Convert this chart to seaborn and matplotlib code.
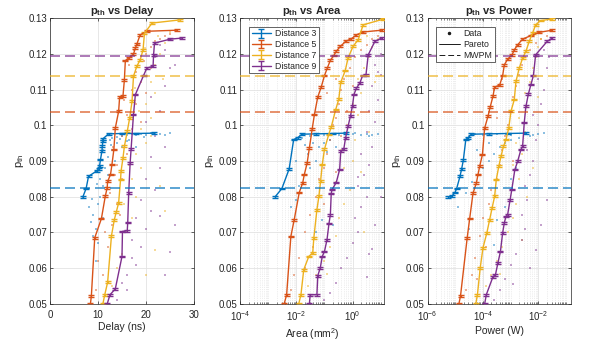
import numpy as np
import matplotlib
matplotlib.use("Agg")
import matplotlib.pyplot as plt
import matplotlib.ticker as mticker
from matplotlib.lines import Line2D
import seaborn as sns

# ---- data ----
distances = [3, 5, 7, 9]
colors = ['#0072BD', '#D95319', '#EDB120', '#7E2F8E']
mwpm_pth = [0.0825, 0.1037, 0.1137, 0.1193]
err_bar = 0.00025

# Pareto fronts: delay in ns
pareto_delay_d3 = [(6.8, 0.0799), (7.5, 0.0823), (8.0, 0.0857), (9.8, 0.0873), (10.1, 0.0878),
                   (10.3, 0.0885), (10.5, 0.0904), (10.8, 0.0927), (10.9, 0.0943), (11.0, 0.0955),
                   (11.0, 0.0962), (12.2, 0.0976), (15.0, 0.0977), (18.0, 0.0977), (21.7, 0.0978)]
pareto_delay_d5 = [(8.4, 0.0500), (8.6, 0.0523), (9.3, 0.0685), (10.7, 0.0739), (11.5, 0.0801),
                   (11.9, 0.0825), (12.0, 0.0843), (12.6, 0.0862), (12.9, 0.0890), (13.3, 0.0932),
                   (13.6, 0.0992), (14.3, 0.1039), (14.5, 0.1078), (15.2, 0.1081), (15.5, 0.1127),
                   (15.7, 0.1181), (16.4, 0.1188), (17.4, 0.1199), (17.8, 0.1216), (18.1, 0.1227),
                   (18.8, 0.1253), (20.2, 0.1263), (26.5, 0.1266)]
pareto_delay_d7 = [(11.0, 0.0500), (11.4, 0.0526), (12.0, 0.0561), (12.8, 0.0691), (13.4, 0.0736),
                   (13.8, 0.0757), (14.3, 0.0783), (14.7, 0.0848), (14.8, 0.0871), (15.2, 0.0908),
                   (15.5, 0.0941), (16.1, 0.0983), (16.6, 0.1020), (17.1, 0.1067), (17.4, 0.1137),
                   (18.1, 0.1165), (18.8, 0.1183), (19.4, 0.1211), (19.7, 0.1258), (21.3, 0.1286),
                   (27.2, 0.1295)]
pareto_delay_d9 = [(11.9, 0.0500), (12.5, 0.0526), (13.6, 0.0542), (15.0, 0.0633), (15.1, 0.0703),
                   (16.1, 0.0705), (16.2, 0.0728), (16.4, 0.0810), (16.7, 0.0894), (16.9, 0.0933),
                   (17.4, 0.1030), (17.8, 0.1086), (19.5, 0.1139), (20.2, 0.1160), (21.5, 0.1165),
                   (21.6, 0.1197), (21.8, 0.1230), (25.1, 0.1241), (27.6, 0.1244)]

# Pareto fronts: log10(area / mm^2)
pareto_area_d3 = [(-2.76, 0.0800), (-2.52, 0.0823), (-2.26, 0.0878), (-2.10, 0.0960), (-1.96, 0.0965),
                  (-1.80, 0.0975), (-1.3, 0.0976), (-0.7, 0.0977), (-0.25, 0.0978)]
pareto_area_d5 = [(-2.44, 0.0500), (-2.35, 0.0526), (-2.20, 0.0689), (-2.08, 0.0736), (-1.90, 0.0812),
                  (-1.78, 0.0838), (-1.72, 0.0862), (-1.62, 0.0894), (-1.54, 0.0936), (-1.44, 0.0989),
                  (-1.36, 0.1030), (-1.24, 0.1079), (-1.12, 0.1106), (-1.00, 0.1139), (-0.90, 0.1160),
                  (-0.79, 0.1182), (-0.67, 0.1195), (-0.58, 0.1207), (-0.43, 0.1221), (-0.24, 0.1235),
                  (-0.04, 0.1242), (0.14, 0.1253), (0.38, 0.1261), (1.04, 0.1266)]
pareto_area_d7 = [(-1.92, 0.0500), (-1.84, 0.0526), (-1.74, 0.0596), (-1.56, 0.0633), (-1.42, 0.0643),
                  (-1.38, 0.0685), (-1.27, 0.0764), (-1.20, 0.0801), (-1.14, 0.0843), (-1.08, 0.0890),
                  (-1.00, 0.0933), (-0.85, 0.0974), (-0.76, 0.0995), (-0.60, 0.1044), (-0.49, 0.1073),
                  (-0.42, 0.1120), (-0.26, 0.1153), (-0.16, 0.1188), (0.02, 0.1221), (0.20, 0.1239),
                  (0.38, 0.1281), (1.10, 0.1297)]
pareto_area_d9 = [(-1.54, 0.0500), (-1.51, 0.0526), (-1.27, 0.0526), (-1.24, 0.0579), (-1.15, 0.0601),
                  (-1.08, 0.0633), (-1.00, 0.0647), (-0.91, 0.0680), (-0.84, 0.0725), (-0.79, 0.0750),
                  (-0.76, 0.0809), (-0.73, 0.0820), (-0.58, 0.0840), (-0.46, 0.0876), (-0.42, 0.0927),
                  (-0.31, 0.0934), (-0.25, 0.0964), (-0.16, 0.0997), (-0.07, 0.1027), (0.00, 0.1055),
                  (0.05, 0.1086), (0.14, 0.1104), (0.26, 0.1118), (0.36, 0.1139), (0.48, 0.1141),
                  (0.56, 0.1197), (0.80, 0.1235), (1.04, 0.1244)]

# Pareto fronts: log10(power / W)
pareto_power_d3 = [(-5.25, 0.0800), (-5.13, 0.0801), (-5.01, 0.0812), (-4.95, 0.0823), (-4.83, 0.0857),
                   (-4.77, 0.0878), (-4.71, 0.0902), (-4.62, 0.0960), (-4.54, 0.0965), (-4.42, 0.0975),
                   (-3.8, 0.0976), (-3.1, 0.0977), (-2.45, 0.0978)]
pareto_power_d5 = [(-4.87, 0.0500), (-4.81, 0.0523), (-4.57, 0.0685), (-4.48, 0.0739), (-4.36, 0.0810),
                   (-4.24, 0.0838), (-4.18, 0.0862), (-4.12, 0.0885), (-4.02, 0.0918), (-3.94, 0.0992),
                   (-3.82, 0.1025), (-3.74, 0.1051), (-3.64, 0.1081), (-3.58, 0.1107), (-3.40, 0.1112),
                   (-3.29, 0.1139), (-3.23, 0.1169), (-3.11, 0.1185), (-2.95, 0.1197), (-2.87, 0.1211),
                   (-2.75, 0.1225), (-2.57, 0.1241), (-2.27, 0.1251), (-1.98, 0.1260), (-1.50, 0.1266)]
pareto_power_d7 = [(-4.26, 0.0500), (-4.20, 0.0526), (-4.10, 0.0601), (-4.00, 0.0657), (-3.86, 0.0699),
                   (-3.76, 0.0736), (-3.67, 0.0769), (-3.58, 0.0801), (-3.52, 0.0848), (-3.43, 0.0885),
                   (-3.35, 0.0913), (-3.26, 0.0941), (-3.17, 0.0960), (-3.07, 0.0992), (-2.99, 0.1039),
                   (-2.87, 0.1072), (-2.81, 0.1123), (-2.69, 0.1160), (-2.57, 0.1188), (-2.45, 0.1207),
                   (-2.33, 0.1235), (-2.21, 0.1258), (-2.10, 0.1281), (-1.92, 0.1293), (-1.52, 0.1297)]
pareto_power_d9 = [(-3.94, 0.0500), (-3.88, 0.0526), (-3.64, 0.0576), (-3.55, 0.0582), (-3.46, 0.0615),
                   (-3.37, 0.0647), (-3.29, 0.0699), (-3.23, 0.0727), (-3.17, 0.0745), (-3.11, 0.0750),
                   (-3.02, 0.0792), (-2.96, 0.0820), (-2.85, 0.0876), (-2.75, 0.0899), (-2.63, 0.0932),
                   (-2.57, 0.0941), (-2.51, 0.1008), (-2.45, 0.1053), (-2.36, 0.1088), (-2.27, 0.1114),
                   (-2.18, 0.1139), (-2.10, 0.1197), (-1.68, 0.1235), (-1.50, 0.1244)]

# scattered design points (delay in ns)
data_delay_d3 = [(8, 0.077), (9, 0.075), (8.5, 0.073), (9.5, 0.071), (10, 0.078), (11, 0.083), (12, 0.086),
                 (10.5, 0.080), (11.5, 0.088), (12, 0.091), (13, 0.093), (14, 0.095), (11, 0.093),
                 (12.5, 0.096), (13, 0.0965), (15, 0.097), (16, 0.0972), (17, 0.0975), (18, 0.0973),
                 (19, 0.0976), (20, 0.0974), (21, 0.0977), (22, 0.0975), (23, 0.0976), (24, 0.0974),
                 (25, 0.0977), (14, 0.0968), (9.5, 0.062), (10, 0.067), (13.5, 0.090), (15, 0.094),
                 (16.5, 0.096), (18, 0.094), (10.5, 0.085), (9, 0.069), (11, 0.074), (12.8, 0.0945),
                 (14.5, 0.0962), (16, 0.0955), (19.5, 0.0968), (8.8, 0.0795), (9.8, 0.0835)]
data_delay_d5 = [(10, 0.062), (11, 0.058), (12, 0.066), (13, 0.072), (14, 0.078), (12.5, 0.081), (15, 0.085),
                 (14, 0.089), (16, 0.092), (15, 0.097), (17, 0.099), (16, 0.103), (18, 0.106), (17, 0.110),
                 (19, 0.112), (18, 0.115), (19.5, 0.118), (20, 0.120), (21, 0.122), (22, 0.1235),
                 (23, 0.124), (24, 0.125), (25, 0.1255), (17.5, 0.121), (16.5, 0.117), (20, 0.109),
                 (9.5, 0.054), (11.5, 0.070), (13.5, 0.086), (19, 0.101), (14.5, 0.075), (21, 0.116),
                 (16.8, 0.1195), (18.5, 0.1225), (15.5, 0.107), (13.2, 0.094)]
data_delay_d7 = [(13, 0.055), (14, 0.060), (15, 0.064), (16, 0.070), (17, 0.074), (15.5, 0.078), (18, 0.080),
                 (17, 0.085), (19, 0.088), (18, 0.092), (20, 0.095), (19, 0.099), (21, 0.102), (20, 0.106),
                 (22, 0.109), (21, 0.112), (22, 0.117), (23, 0.120), (24, 0.123), (22.5, 0.125),
                 (25, 0.126), (21, 0.097), (23, 0.083), (24, 0.076), (22, 0.065), (20, 0.058),
                 (18.5, 0.104), (23.5, 0.113), (19.8, 0.1215), (16.5, 0.089), (17.8, 0.1105)]
data_delay_d9 = [(14, 0.051), (15, 0.056), (16, 0.058), (17, 0.063), (18, 0.061), (19, 0.066), (17, 0.068),
                 (20, 0.071), (18, 0.074), (21, 0.076), (19, 0.079), (22, 0.082), (20, 0.085), (23, 0.088),
                 (21, 0.091), (24, 0.094), (22, 0.097), (20, 0.101), (23, 0.104), (21, 0.108), (24, 0.111),
                 (25, 0.116), (22, 0.119), (26, 0.117), (24, 0.121), (23, 0.1225), (25, 0.0645),
                 (26, 0.072), (24, 0.058), (16, 0.054), (23, 0.0745)]

# scattered design points (log10 area)
data_area_d3 = [(-2.2, 0.077), (-2.0, 0.079), (-1.9, 0.083), (-1.7, 0.086), (-1.5, 0.088), (-1.3, 0.090),
                (-1.6, 0.092), (-1.2, 0.094), (-1.0, 0.095), (-0.8, 0.096), (-1.4, 0.095), (-2.0, 0.090),
                (-1.1, 0.0735), (-1.3, 0.070), (-0.7, 0.072), (-1.5, 0.097), (-1.0, 0.0972), (-0.5, 0.0974),
                (0.0, 0.0975), (0.3, 0.0973), (0.5, 0.0976), (0.7, 0.0974), (0.9, 0.0975), (-0.2, 0.0976),
                (-1.8, 0.0965), (-0.9, 0.0925), (-0.6, 0.094), (0.1, 0.0978), (0.6, 0.0971), (-1.7, 0.0945)]
data_area_d5 = [(-2.1, 0.058), (-1.9, 0.063), (-1.7, 0.070), (-1.5, 0.075), (-1.3, 0.080), (-1.2, 0.085),
                (-1.0, 0.088), (-0.9, 0.092), (-0.8, 0.096), (-0.7, 0.100), (-0.6, 0.102), (-0.5, 0.106),
                (-0.4, 0.110), (-0.3, 0.113), (-0.1, 0.116), (0.1, 0.119), (0.3, 0.121), (0.5, 0.1225),
                (0.7, 0.124), (0.9, 0.125), (-0.9, 0.109), (-0.6, 0.113), (-1.4, 0.066), (-1.0, 0.078),
                (-0.6, 0.087), (-0.4, 0.097), (-0.2, 0.104), (0.0, 0.111), (-2.2, 0.054), (-1.7, 0.060)]
data_area_d7 = [(-1.6, 0.055), (-1.3, 0.058), (-1.0, 0.062), (-0.8, 0.066), (-0.6, 0.069), (-0.5, 0.074),
                (-0.3, 0.078), (-0.1, 0.082), (-0.6, 0.084), (-0.3, 0.088), (0.0, 0.090), (-0.4, 0.093),
                (0.1, 0.096), (-0.2, 0.100), (0.2, 0.103), (0.0, 0.106), (0.3, 0.109), (0.2, 0.113),
                (0.4, 0.116), (0.6, 0.119), (0.7, 0.122), (0.9, 0.124), (0.5, 0.125), (-0.9, 0.0585),
                (0.4, 0.070), (0.3, 0.087), (0.6, 0.098), (0.8, 0.112)]
data_area_d9 = [(-1.0, 0.051), (-0.8, 0.053), (-0.6, 0.056), (-0.4, 0.060), (-0.2, 0.063), (0.0, 0.067),
                (0.2, 0.070), (0.1, 0.074), (0.3, 0.077), (0.5, 0.080), (0.2, 0.083), (0.4, 0.086),
                (0.6, 0.089), (0.3, 0.092), (0.7, 0.094), (0.5, 0.098), (0.8, 0.101), (0.6, 0.104),
                (0.9, 0.107), (0.7, 0.111), (1.0, 0.114), (0.8, 0.117), (1.0, 0.120), (0.9, 0.115),
                (0.6, 0.064), (0.8, 0.072), (1.0, 0.080), (0.5, 0.0575), (0.7, 0.0655), (0.2, 0.0855)]

# scattered design points (log10 power)
data_power_d3 = [(-4.9, 0.077), (-4.6, 0.081), (-4.4, 0.084), (-4.2, 0.086), (-4.0, 0.088), (-3.8, 0.090),
                 (-3.6, 0.092), (-3.4, 0.094), (-3.2, 0.095), (-3.0, 0.096), (-3.8, 0.095), (-4.2, 0.093),
                 (-3.5, 0.0735), (-3.2, 0.077), (-3.0, 0.085), (-2.8, 0.088), (-4.3, 0.0975), (-4.0, 0.0973),
                 (-3.5, 0.0976), (-3.0, 0.0974), (-2.5, 0.0975), (-2.2, 0.0973), (-2.0, 0.0976),
                 (-1.8, 0.0978), (-2.7, 0.0965), (-4.5, 0.071), (-3.6, 0.0665), (-2.3, 0.0969)]
data_power_d5 = [(-4.6, 0.054), (-4.4, 0.058), (-4.3, 0.063), (-4.1, 0.069), (-4.0, 0.074), (-3.8, 0.078),
                 (-3.7, 0.082), (-3.5, 0.085), (-3.4, 0.089), (-3.3, 0.093), (-3.2, 0.097), (-3.1, 0.100),
                 (-3.0, 0.104), (-2.9, 0.108), (-2.8, 0.111), (-2.7, 0.114), (-2.6, 0.117), (-2.5, 0.119),
                 (-2.3, 0.121), (-2.1, 0.123), (-1.9, 0.124), (-1.7, 0.125), (-3.6, 0.110), (-3.3, 0.113),
                 (-3.5, 0.102), (-4.2, 0.057), (-3.9, 0.066), (-2.9, 0.090)]
data_power_d7 = [(-3.9, 0.055), (-3.7, 0.058), (-3.5, 0.062), (-3.3, 0.066), (-3.1, 0.070), (-2.9, 0.074),
                 (-2.8, 0.078), (-3.0, 0.082), (-2.7, 0.085), (-2.9, 0.089), (-2.6, 0.092), (-2.8, 0.095),
                 (-2.5, 0.098), (-2.7, 0.102), (-2.4, 0.105), (-2.5, 0.109), (-2.3, 0.112), (-2.2, 0.116),
                 (-2.1, 0.119), (-2.0, 0.122), (-1.9, 0.124), (-2.3, 0.125), (-2.6, 0.068), (-2.4, 0.080),
                 (-2.2, 0.088), (-3.4, 0.0585), (-2.0, 0.108)]
data_power_d9 = [(-3.6, 0.051), (-3.4, 0.054), (-3.2, 0.057), (-3.0, 0.061), (-2.8, 0.064), (-2.6, 0.068),
                 (-2.5, 0.071), (-2.6, 0.075), (-2.4, 0.079), (-2.5, 0.083), (-2.3, 0.086), (-2.2, 0.090),
                 (-2.4, 0.093), (-2.1, 0.096), (-2.0, 0.100), (-2.2, 0.103), (-1.9, 0.106), (-1.8, 0.110),
                 (-2.0, 0.113), (-1.7, 0.116), (-1.6, 0.119), (-1.8, 0.121), (-2.1, 0.065), (-1.9, 0.072),
                 (-1.7, 0.079), (-2.9, 0.0555), (-2.3, 0.060)]

# ---- style ----
sns.set_theme(style='ticks')
plt.rcParams['font.family'] = ['Liberation Sans', 'DejaVu Sans']
plt.rcParams['mathtext.fontset'] = 'custom'
plt.rcParams['mathtext.rm'] = 'Liberation Sans'
plt.rcParams['mathtext.it'] = 'Liberation Sans:italic'
plt.rcParams['mathtext.bf'] = 'Liberation Sans:bold'
plt.rcParams['xtick.direction'] = 'in'
plt.rcParams['ytick.direction'] = 'in'

fig = plt.figure(figsize=(5.98, 3.47), dpi=100)
lefts = [0.084, 0.402, 0.715]
axes = [fig.add_axes([l, 0.124, 0.240, 0.824]) for l in lefts]

panels = [
    ('Delay', 'Delay (ns)', False,
     [pareto_delay_d3, pareto_delay_d5, pareto_delay_d7, pareto_delay_d9],
     [data_delay_d3, data_delay_d5, data_delay_d7, data_delay_d9]),
    ('Area', r'Area (mm$^{2}$)', True,
     [pareto_area_d3, pareto_area_d5, pareto_area_d7, pareto_area_d9],
     [data_area_d3, data_area_d5, data_area_d7, data_area_d9]),
    ('Power', 'Power (W)', True,
     [pareto_power_d3, pareto_power_d5, pareto_power_d7, pareto_power_d9],
     [data_power_d3, data_power_d5, data_power_d7, data_power_d9]),
]

dash = (0, (6, 3))
for ax, (name, xlabel, logx, paretos, datas) in zip(axes, panels):
    err_handles = []
    for d, col, front, pts, pth in zip(distances, colors, paretos, datas, mwpm_pth):
        px = np.array([p[0] for p in pts])
        py = np.array([p[1] for p in pts])
        fx = np.array([p[0] for p in front])
        fy = np.array([p[1] for p in front])
        if logx:
            px = 10 ** px
            fx = 10 ** fx
        sns.scatterplot(x=px, y=py, ax=ax, color=col, s=4, alpha=0.45, marker='s',
                        linewidth=0, legend=False, zorder=2)
        h = ax.errorbar(fx, fy, yerr=err_bar, fmt='-', color=col, lw=1.0,
                        capsize=2.4, capthick=1.0, elinewidth=1.0, zorder=3,
                        label=f'Distance {d}')
        err_handles.append(h)
        ax.axhline(pth, color=col, ls=dash, lw=1.2, alpha=0.75, zorder=4)

    ax.set_ylim(0.05, 0.13)
    ax.yaxis.set_major_locator(mticker.MultipleLocator(0.01))
    ax.yaxis.set_major_formatter(mticker.FormatStrFormatter('%g'))
    if logx:
        ax.set_xscale('log')
        ax.xaxis.set_major_locator(mticker.FixedLocator([1e-6, 1e-4, 1e-2, 1e0]))
        ax.xaxis.set_minor_locator(mticker.LogLocator(base=10, subs=np.arange(1, 10), numticks=30))
        ax.xaxis.set_minor_formatter(mticker.NullFormatter())
        ax.grid(True, which='minor', axis='x', color='#dddddd', lw=0.5, ls=':')
    ax.grid(True, which='major', color='#e3e3e3', lw=0.6)
    ax.set_axisbelow(True)
    ax.tick_params(labelsize=7, length=2.5, width=0.5, colors='#262626',
                   top=True, right=True)
    ax.tick_params(axis='x', pad=4)
    ax.tick_params(axis='y', pad=2)
    ax.tick_params(which='minor', length=1.5, width=0.4, top=True, bottom=True)
    for s in ax.spines.values():
        s.set_linewidth(0.5)
        s.set_color('#262626')
    ax.set_title(r'$\mathbf{p_{th}}$ vs ' + name, fontsize=8, fontweight='bold', pad=3)
    ax.set_xlabel(xlabel, fontsize=7.5, labelpad=2, color='#262626')
    ax.set_ylabel(r'$\mathrm{p_{th}}$', fontsize=8, labelpad=2, color='#262626')

    if name == 'Area':
        leg = ax.legend(handles=err_handles, loc='upper left', fontsize=6.3, frameon=True,
                        fancybox=False, edgecolor='#262626', framealpha=1,
                        handlelength=2.2, handletextpad=0.5, borderpad=0.3,
                        labelspacing=0.2, bbox_to_anchor=(0.03, 0.985))
        leg.get_frame().set_linewidth(0.5)
    if name == 'Power':
        style_handles = [Line2D([], [], color='k', marker='.', ls='none', ms=3),
                         Line2D([], [], color='k', lw=0.7),
                         Line2D([], [], color='k', lw=0.7, ls=dash)]
        leg = ax.legend(style_handles, ['Data', 'Pareto', 'MWPM'], loc='upper left',
                        fontsize=6.3, frameon=True, fancybox=False, edgecolor='#262626',
                        framealpha=1, handlelength=2.4, handletextpad=0.4, borderpad=0.3,
                        labelspacing=0.2, bbox_to_anchor=(0.03, 0.985))
        leg.get_frame().set_linewidth(0.5)

axes[0].set_xlim(0, 30)
axes[0].xaxis.set_major_locator(mticker.MultipleLocator(10))
axes[1].set_xlim(1e-4, 10 ** 1.12)
axes[2].set_xlim(1e-6, 10 ** -0.82)

fig.savefig('out.png', dpi=100)
